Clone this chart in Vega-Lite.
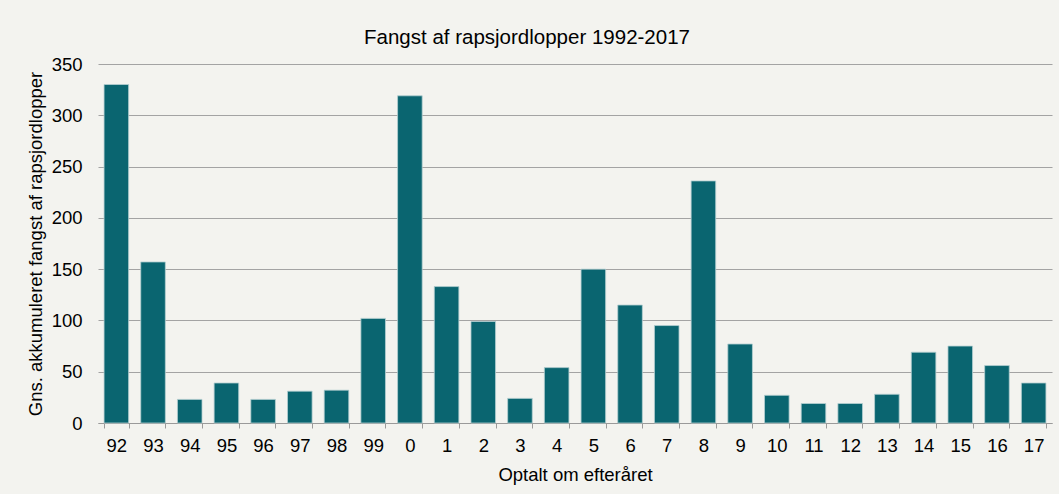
{
  "$schema": "https://vega.github.io/schema/vega-lite/v6.json",
  "autosize": "none",
  "width": 954,
  "height": 359,
  "padding": {"left": 98, "top": 64, "right": 7, "bottom": 71},
  "background": "#f3f3ef",
  "config": {
    "view": {"stroke": null},
    "font": "Liberation Sans"
  },
  "title": {
    "text": "Fangst af rapsjordlopper 1992-2017",
    "fontSize": 20.5,
    "fontWeight": "normal",
    "color": "#000000",
    "anchor": "middle",
    "dx": -48,
    "offset": 7
  },
  "data": {
    "values": [
      {"aar": "92", "fangst": 330},
      {"aar": "93", "fangst": 157},
      {"aar": "94", "fangst": 23},
      {"aar": "95", "fangst": 39},
      {"aar": "96", "fangst": 23},
      {"aar": "97", "fangst": 31},
      {"aar": "98", "fangst": 32},
      {"aar": "99", "fangst": 102},
      {"aar": "0", "fangst": 319},
      {"aar": "1", "fangst": 133},
      {"aar": "2", "fangst": 99},
      {"aar": "3", "fangst": 24},
      {"aar": "4", "fangst": 54},
      {"aar": "5", "fangst": 150},
      {"aar": "6", "fangst": 115},
      {"aar": "7", "fangst": 95},
      {"aar": "8", "fangst": 236},
      {"aar": "9", "fangst": 77},
      {"aar": "10", "fangst": 27},
      {"aar": "11", "fangst": 19},
      {"aar": "12", "fangst": 19},
      {"aar": "13", "fangst": 28},
      {"aar": "14", "fangst": 69},
      {"aar": "15", "fangst": 75},
      {"aar": "16", "fangst": 56},
      {"aar": "17", "fangst": 39}
    ]
  },
  "mark": {"type": "bar", "color": "#0a6570", "stroke": "#b5cfd2", "strokeWidth": 0.8},
  "encoding": {
    "x": {
      "field": "aar",
      "type": "nominal",
      "sort": null,
      "scale": {"paddingInner": 0.33, "paddingOuter": 0.165},
      "axis": {
        "title": "Optalt om efteråret",
        "titleFontSize": 18.5,
        "titleFontWeight": "normal",
        "titleColor": "#000000",
        "titlePadding": 11,
        "labelAngle": 0,
        "labelFontSize": 18.5,
        "labelColor": "#000000",
        "labelPadding": 8,
        "tickBand": "extent",
        "tickSize": 5,
        "tickColor": "#9a9a9a",
        "domainColor": "#9a9a9a",
        "grid": false
      }
    },
    "y": {
      "field": "fangst",
      "type": "quantitative",
      "scale": {"domain": [0, 350], "nice": false},
      "axis": {
        "title": "Gns. akkumuleret fangst af rapsjordlopper",
        "titleFontSize": 18.5,
        "titleFontWeight": "normal",
        "titleColor": "#000000",
        "titlePadding": 6,
        "values": [0, 50, 100, 150, 200, 250, 300, 350],
        "labelFontSize": 18.5,
        "labelColor": "#000000",
        "labelPadding": 16,
        "ticks": false,
        "domain": false,
        "grid": true,
        "gridColor": "#a3a3a3",
        "gridWidth": 1
      }
    }
  }
}
